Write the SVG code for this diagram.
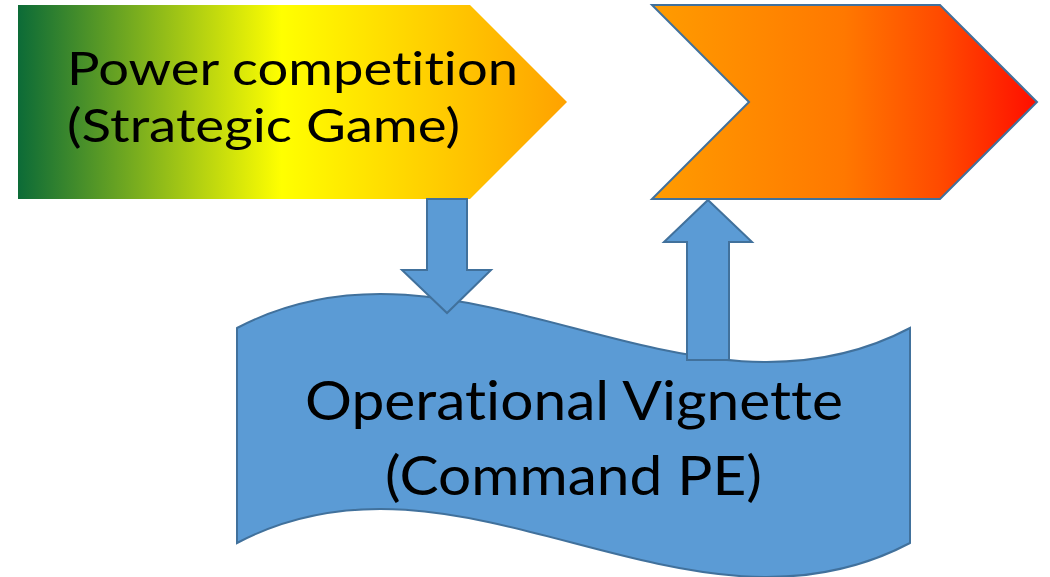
<svg xmlns="http://www.w3.org/2000/svg" width="1050" height="577" viewBox="0 0 1050 577">
  <defs>
    <linearGradient id="gradGreenYellow" x1="18" y1="0" x2="567" y2="0" gradientUnits="userSpaceOnUse">
      <stop offset="0" stop-color="#0c6b37"/>
      <stop offset="0.48" stop-color="#ffff00"/>
      <stop offset="1" stop-color="#ffa200"/>
    </linearGradient>
    <linearGradient id="gradOrangeRed" x1="652" y1="0" x2="1037" y2="0" gradientUnits="userSpaceOnUse">
      <stop offset="0" stop-color="#ff9c00"/>
      <stop offset="0.5" stop-color="#ff7800"/>
      <stop offset="0.75" stop-color="#ff4a00"/>
      <stop offset="1" stop-color="#ff0e00"/>
    </linearGradient>
  </defs>
  <style>
    .blue { fill: #5b9bd5; stroke: #41719c; stroke-width: 2; stroke-linejoin: miter; }
    .label { font-family: Lato, "Liberation Sans", sans-serif; fill: #000000; font-variant-ligatures: none; font-feature-settings: "liga" 0, "clig" 0; }
    .top { font-size: 46px; }
    .bottom { font-size: 54px; }
  </style>

  <!-- strategic layer: power competition -->
  <g id="power-competition">
    <polygon points="18,5 470,5 567,102 470,199 18,199" fill="url(#gradGreenYellow)"/>
    <text class="label top" x="67" y="85" textLength="451" lengthAdjust="spacingAndGlyphs">Power competition</text>
    <text class="label top" x="67" y="142" textLength="393" lengthAdjust="spacingAndGlyphs">(Strategic Game)</text>
  </g>

  <!-- operational layer: vignette banner -->
  <g id="operational-vignette">
    <path class="blue" d="M237,328 C461,210 686,446 910,328 L910,543 C686,661 461,425 237,543 Z"/>
    <text class="label bottom" x="305" y="420" textLength="538" lengthAdjust="spacingAndGlyphs">Operational Vignette</text>
    <text class="label bottom" x="385" y="495" textLength="377" lengthAdjust="spacingAndGlyphs">(Command PE)</text>
  </g>

  <!-- block arrows linking the two layers -->
  <g id="connectors">
    <polygon class="blue" points="427,199 467,199 467,270 491,270 447,313 402,270 427,270"/>
    <polygon class="blue" points="708,200 752,242 729,242 729,360 687,360 687,242 664,242"/>
  </g>

  <!-- next phase chevron -->
  <g id="next-phase">
    <polygon points="652,5 940,5 1037,102 940,199 652,199 749,102" fill="url(#gradOrangeRed)" stroke="#41719c" stroke-width="2"/>
  </g>
</svg>
